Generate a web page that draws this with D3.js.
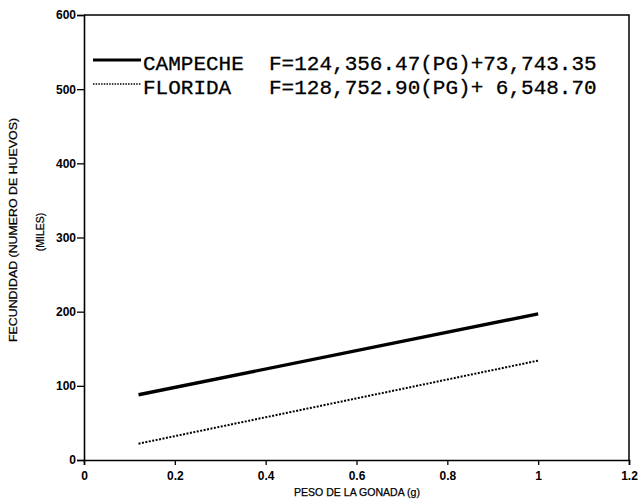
<!DOCTYPE html>
<html>
<head>
<meta charset="utf-8">
<script src="https://cdn.jsdelivr.net/npm/d3@7"></script>
<style>
  body { margin: 0; background: #fff; }
  svg { display: block; }
  .tick text { font-family: "Liberation Sans", Arial, sans-serif; font-size: 12px; font-weight: bold; fill: #000; }
  .legend text { font-family: "Liberation Mono", "Courier New", monospace; font-size: 21px; fill: #000; stroke: #000; stroke-width: 0.3; }
  .axis-title { font-family: "Liberation Sans", Arial, sans-serif; font-size: 10.5px; fill: #000; stroke: #000; stroke-width: 0.25; }
</style>
</head>
<body>
<svg id="chart" width="640" height="500"></svg>
<script>
// values (x = gonad weight g, y = thousands of eggs)
var series = ["CAMPECHE", "FLORIDA"];
var equations = ["F=124,356.47(PG)+73,743.35", "F=128,752.90(PG)+ 6,548.70"];
var campeche = [[0.12, 88], [1.0, 197]];
var florida = [[0.12, 22], [1.0, 134]];
var xTicks = [0, 0.2, 0.4, 0.6, 0.8, 1, 1.2];
var yTicks = [0, 100, 200, 300, 400, 500, 600];

var svg = d3.select("#chart");
var plotLeft = 84, plotRight = 629, plotTop = 15, plotBottom = 460;

var x = d3.scaleLinear().domain([0, 1.2]).range([plotLeft, plotRight]);
var y = d3.scaleLinear().domain([0, 600]).range([plotBottom, plotTop]);

// frame (top and right)
svg.append("path")
    .attr("d", "M" + plotLeft + "," + plotTop + "H" + plotRight + "V" + plotBottom)
    .attr("fill", "none").attr("stroke", "#000").attr("stroke-width", 1.5);

var xAxis = svg.append("g")
    .attr("transform", "translate(0," + plotBottom + ")")
    .call(d3.axisBottom(x).tickValues(xTicks).tickSize(5).tickPadding(6)
        .tickFormat(function(d) { return d === 0 || d === 1 ? d : d.toFixed(1); }));

var yAxis = svg.append("g")
    .attr("transform", "translate(" + plotLeft + ",0)")
    .call(d3.axisLeft(y).tickValues(yTicks).tickSize(7).tickPadding(1));

[xAxis, yAxis].forEach(function(a) {
    a.select(".domain").attr("stroke", "#000").attr("stroke-width", 1.6);
    a.selectAll(".tick line").attr("stroke", "#000").attr("stroke-width", 1.3);
});

var line = d3.line()
    .x(function(d) { return x(d[0]); })
    .y(function(d) { return y(d[1]); });

svg.append("path").datum(campeche)
    .attr("d", line)
    .attr("fill", "none").attr("stroke", "#000").attr("stroke-width", 3.4);

svg.append("path").datum(florida)
    .attr("d", line)
    .attr("fill", "none").attr("stroke", "#000").attr("stroke-width", 2)
    .attr("stroke-dasharray", "2,1.5");

// legend
var legend = svg.append("g").attr("class", "legend");
var styles = [{w: 3, dash: null}, {w: 1.4, dash: "1.5,1.2"}];
series.forEach(function(s, i) {
    var yy = 60 + i * 24;
    legend.append("line")
        .attr("x1", 93).attr("x2", 141).attr("y1", yy).attr("y2", yy)
        .attr("stroke", "#000").attr("stroke-width", styles[i].w)
        .attr("stroke-dasharray", styles[i].dash);
    legend.append("text")
        .attr("x", 143).attr("y", yy + 10)
        .attr("xml:space", "preserve")
        .text((s + "         ").slice(0, 10) + equations[i]);
});

// axis titles
svg.append("text").attr("class", "axis-title")
    .attr("transform", "translate(17,230) rotate(-90)")
    .attr("text-anchor", "middle")
    .attr("textLength", 224).attr("lengthAdjust", "spacingAndGlyphs")
    .text("FECUNDIDAD (NUMERO DE HUEVOS)");

svg.append("text").attr("class", "axis-title")
    .attr("transform", "translate(44,232) rotate(-90)")
    .attr("text-anchor", "middle")
    .text("(MILES)");

svg.append("text").attr("class", "axis-title")
    .attr("x", 357).attr("y", 496)
    .attr("text-anchor", "middle")
    .attr("textLength", 126).attr("lengthAdjust", "spacingAndGlyphs")
    .text("PESO DE LA GONADA (g)");
</script>
</body>
</html>
